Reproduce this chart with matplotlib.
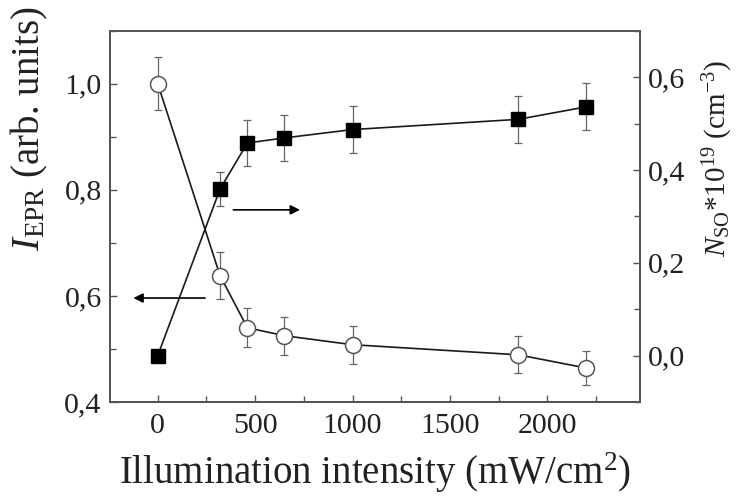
import matplotlib
matplotlib.use('Agg')
import matplotlib.pyplot as plt
from matplotlib.ticker import FuncFormatter, MultipleLocator

# Data
intensity = [0, 320, 460, 650, 1000, 1850, 2200]
i_epr = [1.0, 0.638, 0.540, 0.525, 0.508, 0.489, 0.464]
i_epr_err = [0.05, 0.044, 0.037, 0.036, 0.036, 0.035, 0.032]
n_so = [0.0, 0.359, 0.458, 0.469, 0.487, 0.509, 0.536]
n_so_err = [0.0, 0.037, 0.049, 0.049, 0.050, 0.051, 0.051]

plt.rcParams['font.family'] = ['Liberation Serif', 'DejaVu Serif']
plt.rcParams['mathtext.fontset'] = 'custom'
plt.rcParams['mathtext.rm'] = 'Liberation Serif'
plt.rcParams['mathtext.it'] = 'Liberation Serif:italic'
plt.rcParams['mathtext.bf'] = 'Liberation Serif:bold'

fig = plt.figure(figsize=(7.38, 4.98), dpi=100)
ax1 = fig.add_axes([110/738, 1 - 402/498, 530/738, 371.3/498])
ax2 = ax1.twinx()

spine_col = '#555555'
line_col = '#1a1a1a'
err_col = '#666666'

# Open circles: I_EPR (left axis)
ax1.plot(intensity, i_epr, '-', color=line_col, lw=1.2, zorder=2)
ax1.errorbar(intensity, i_epr, yerr=i_epr_err, fmt='none', ecolor=err_col,
             elinewidth=0.9, capsize=3, capthick=0.9, zorder=3)
ax1.plot(intensity, i_epr, 'o', ms=11.5, mfc='white', mec='#555555',
         mew=1.1, zorder=4)

# Filled squares: N_SO (right axis)
ax2.plot(intensity, n_so, '-', color=line_col, lw=1.2, zorder=2)
ax2.errorbar(intensity[1:], n_so[1:], yerr=n_so_err[1:], fmt='none',
             ecolor=err_col, elinewidth=0.9, capsize=3, capthick=0.9, zorder=3)
ax2.plot(intensity, n_so, 's', ms=10, mfc='black', mec='black', zorder=4)

ax1.set_xlim(-245, 2475)
ax1.set_ylim(0.4, 1.1)
ax2.set_ylim(-0.1, 0.7)

comma = FuncFormatter(lambda v, p: f"{v:.1f}".replace('.', ','))
ax1.yaxis.set_major_locator(MultipleLocator(0.2))
ax1.yaxis.set_minor_locator(MultipleLocator(0.1))
ax1.yaxis.set_major_formatter(comma)
ax2.yaxis.set_major_locator(MultipleLocator(0.2))
ax2.yaxis.set_minor_locator(MultipleLocator(0.1))
ax2.yaxis.set_major_formatter(comma)
ax1.xaxis.set_major_locator(MultipleLocator(500))
ax1.xaxis.set_minor_locator(MultipleLocator(250))
ax1.xaxis.set_major_formatter(FuncFormatter(lambda v, p: f"{v:.0f}"))

for ax in (ax1, ax2):
    for s in ax.spines.values():
        s.set_color(spine_col)
        s.set_linewidth(1.4)
    ax.tick_params(which='both', direction='in', colors=spine_col,
                   labelcolor='#222222', labelsize=21.5, width=1.0)
    ax.tick_params(which='major', length=5)
    ax.tick_params(which='minor', length=4)
ax1.tick_params(axis='y', right=False)
ax1.tick_params(axis='x', top=False, pad=8)
ax1.tick_params(axis='y', pad=6)
ax2.tick_params(axis='y', pad=6)

ax1.set_xlabel('Illumination intensity (mW/cm$^2$)', fontsize=28,
               color='#222222', labelpad=8)
ax1.set_ylabel('$I_{\\rm EPR}$ (arb. units)', fontsize=28, color='#222222')
ax1.yaxis.set_label_coords(-0.114, 0.735)
ax2.set_ylabel('$N_{\\rm SO}$*10$^{19}$ (cm$^{-3}$)', fontsize=21,
               color='#222222', rotation=90)
ax2.yaxis.set_label_coords(1.115, 0.655)

# Axis-indicating arrows
ax1.annotate('', xy=(-125, 0.596), xytext=(243, 0.596),
             arrowprops=dict(arrowstyle='-|>', color='black', lw=1.2,
                             mutation_scale=14, shrinkA=0, shrinkB=0))
ax2.annotate('', xy=(730, 0.314), xytext=(388, 0.314),
             arrowprops=dict(arrowstyle='-|>', color='black', lw=1.2,
                             mutation_scale=14, shrinkA=0, shrinkB=0))

fig.savefig('out.png', dpi=100)
